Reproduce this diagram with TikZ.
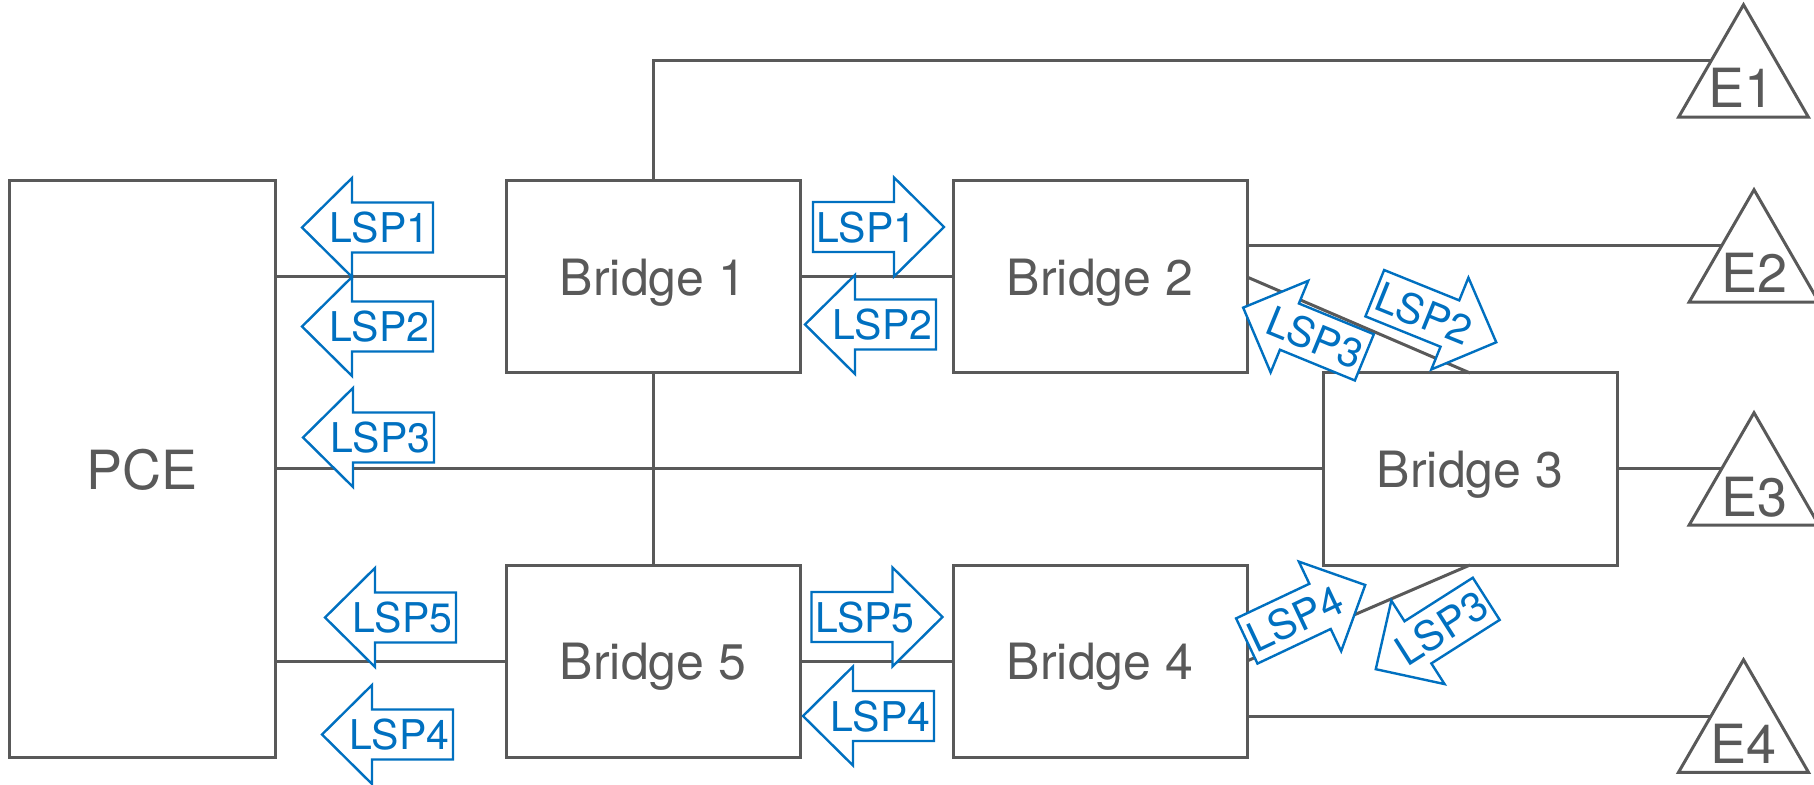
\documentclass[tikz,border=0pt]{standalone}
\usepackage{fontspec}
\setmainfont{TeX Gyre Heros}
\usepackage{tikz}
\usetikzlibrary{shapes.geometric}
\definecolor{linegray}{RGB}{89,89,89}
\definecolor{lspblue}{RGB}{0,112,192}
\tikzset{
  box/.style={draw=linegray, line width=1.5pt, minimum width=147pt, minimum height=96pt,
    inner sep=0pt, outer sep=0pt, text=linegray, text depth=0pt, font=\fontsize{25}{30}\selectfont},
  link/.style={draw=linegray, line width=1.5pt},
  endsys/.style={draw=linegray, line width=1.5pt, regular polygon, regular polygon sides=3,
    minimum size=75pt, inner sep=0pt, outer sep=0pt},
  endtext/.style={text=linegray, text depth=0pt, inner sep=0pt, font=\fontsize{27}{32}\selectfont},
  lsparrow/.style={draw=lspblue, fill=white, line width=1.2pt, line join=miter},
  lsptext/.style={text=lspblue, text depth=0pt, inner sep=0pt, font=\fontsize{20.5}{24}\selectfont}
}

\begin{document}
\begin{tikzpicture}[x=0.5pt, y=-0.5pt]

  \useasboundingbox (0,0) rectangle (1814,785);

  % name, centre, arrow angle, text angle, label
  \newcommand\lsp[5]{%
    \begin{scope}[shift={#2}, rotate=#3]
      \draw[lsparrow] (65.5,0) -- (15.5,49.5) -- (15.5,25) -- (-65.5,25)
        -- (-65.5,-25) -- (15.5,-25) -- (15.5,-49.5) -- cycle;
      \node[lsptext, rotate=#4] (#1) at (-12,0) {#5};
    \end{scope}}

  \node[box, minimum width=133pt, minimum height=288pt, font=\fontsize{27}{32}\selectfont]
    (pce) at (142,469) {PCE};

  \node[box] (br1) at (653,277) {Bridge 1};
  \node[box] (br2) at (1100,277) {Bridge 2};
  \node[box] (br3) at (1470,469) {Bridge 3};
  \node[box] (br5) at (653,661) {Bridge 5};
  \node[box] (br4) at (1100,661) {Bridge 4};

  \node[endsys] (e1) at (1743.5,79.75) {};
  \node[endsys] (e2) at (1754,264.75) {};
  \node[endsys] (e3) at (1754,487.75) {};
  \node[endsys] (e4) at (1743.5,734.75) {};

  \node[endtext] (e1txt) at (1741,88) {E1};
  \node[endtext] (e2txt) at (1754,273) {E2};
  \node[endtext] (e3txt) at (1754,497) {E3};
  \node[endtext] (e4txt) at (1743.5,744) {E4};

  \draw[link] (pce.east |- br1.west) -- (br1.west);
  \draw[link] (br1.east) -- (br2.west);
  \draw[link] (pce.east) -- (br3.west);
  \draw[link] (br1.south) -- (br5.north);
  \draw[link] (pce.east |- br5.west) -- (br5.west);
  \draw[link] (br5.east) -- (br4.west);

  \draw[link] (br1.north) |- (e1.side 1);
  \draw[link] (br2.east |- e2.side 1) -- (e2.side 1);
  \draw[link] (br3.east) -- (e3.side 1);
  \draw[link] (br4.east |- e4.side 1) -- (e4.side 1);

  \draw[link] (br2.east) -- (br3.north);
  \draw[link] (br4.east) -- (br3.south);

  \lsp{lspPceA}{(367.5,227.5)}{180}{0}{LSP1}
  \lsp{lspPceB}{(367.5,326.5)}{180}{0}{LSP2}
  \lsp{lspPceC}{(368.5,437.5)}{180}{0}{LSP3}
  \lsp{lspPceE}{(390.5,617.5)}{180}{0}{LSP5}
  \lsp{lspPceD}{(387.5,734.5)}{180}{0}{LSP4}

  \lsp{lspTopA}{(878.5,227)}{0}{0}{LSP1}
  \lsp{lspTopB}{(870.5,324.5)}{180}{0}{LSP2}
  \lsp{lspBotE}{(877,617)}{0}{0}{LSP5}
  \lsp{lspBotD}{(868.5,716)}{180}{0}{LSP4}

  \lsp{lspDiagC}{(1303.75,332.5)}{157.7}{-22.3}{LSP3}
  \lsp{lspDiagB}{(1435.5,317.75)}{-22}{-22}{LSP2}
  \lsp{lspDiagD}{(1306,613)}{25.3}{25.3}{LSP4}
  \lsp{lspDiagCC}{(1431,634)}{212.5}{32.5}{LSP3}

\end{tikzpicture}
\end{document}
